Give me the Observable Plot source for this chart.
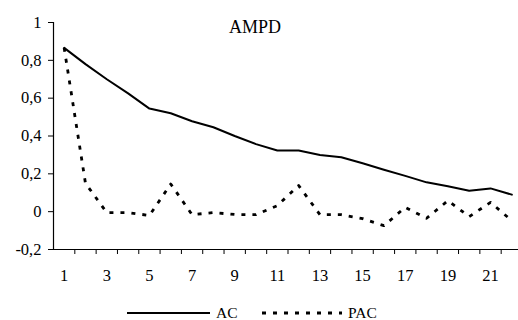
<!DOCTYPE html>
<html>
<head>
<meta charset="utf-8">
<script src="https://cdn.jsdelivr.net/npm/d3@7"></script>
<script src="https://cdn.jsdelivr.net/npm/@observablehq/plot@0.6"></script>
<style>
  html, body { margin: 0; padding: 0; background: #fff; }
  #chart { width: 518px; height: 320px; overflow: hidden; font-family: "Liberation Serif", "Times New Roman", serif; }
  .legend { position: relative; width: 518px; height: 28px; font-size: 15px; color: #000; }
  .legend svg { position: absolute; left: 0; top: 0; }
</style>
</head>
<body>
<div id="chart"></div>
<script>
const title = "AMPD";
const lags = [1,2,3,4,5,6,7,8,9,10,11,12,13,14,15,16,17,18,19,20,21,22];
const acValues = [0.866,0.78,0.70,0.625,0.545,0.52,0.478,0.446,0.40,0.357,0.323,0.323,0.30,0.288,0.256,0.222,0.189,0.155,0.134,0.111,0.123,0.09];
const pacValues = [0.866,0.15,-0.005,-0.005,-0.02,0.146,-0.016,-0.005,-0.015,-0.016,0.032,0.138,-0.016,-0.016,-0.037,-0.074,0.023,-0.035,0.058,-0.026,0.049,-0.048];
const yTicks = [-0.2,0,0.2,0.4,0.6,0.8,1];
const xLabelTicks = [1,3,5,7,9,11,13,15,17,19,21];
const seriesNames = ["AC","PAC"];

const acData = lags.map((l,i) => ({lag: l, v: acValues[i]}));
const pacData = lags.map((l,i) => ({lag: l, v: pacValues[i]}));
const boundaryTicks = lags.slice(0, -1).map(l => l + 0.5);
const fmt = d => String(d).replace(".", ",");
const serif = '"Liberation Serif", "Times New Roman", serif';

const plot = Plot.plot({
  width: 518,
  height: 292,
  marginLeft: 53,
  marginRight: 0,
  marginTop: 22,
  marginBottom: 43,
  style: {fontFamily: serif, fontSize: "16px", color: "#000", background: "#fff", overflow: "visible"},
  x: {type: "linear", domain: [0.5, 22.5], range: [53, 522]},
  y: {domain: [-0.2, 1]},
  marks: [
    Plot.axisY({ticks: yTicks, tickSize: 5, tickPadding: 7, tickFormat: fmt, label: null, fontSize: 16.5}),
    Plot.axisX({ticks: boundaryTicks, tickSize: 5, tickFormat: () => "", label: null}),
    Plot.axisX({ticks: xLabelTicks, tickSize: 0, tickPadding: 20, tickFormat: d => String(d), label: null, fontSize: 16.5}),
    Plot.ruleY([-0.2], {stroke: "#000", strokeWidth: 1.2}),
    Plot.ruleX([0.5], {stroke: "#000", strokeWidth: 1.2}),
    Plot.line(pacData, {x: "lag", y: "v", stroke: "#000", strokeWidth: 2.8, strokeDasharray: "4,7", strokeLinecap: "butt"}),
    Plot.line(acData, {x: "lag", y: "v", stroke: "#000", strokeWidth: 2}),
    Plot.text([title], {frameAnchor: "top", dx: -31, dy: -2, fontSize: 18, fill: "#000", text: d => d})
  ]
});

const chart = document.getElementById("chart");
chart.appendChild(plot);

const legend = document.createElement("div");
legend.className = "legend";
legend.innerHTML = `
<svg width="518" height="28" xmlns="http://www.w3.org/2000/svg" style="font-family:'Liberation Serif','Times New Roman',serif">
  <line x1="127" x2="210" y1="21" y2="21" stroke="#000" stroke-width="2"/>
  <text x="216" y="26" font-size="15.5" fill="#000">${seriesNames[0]}</text>
  <line x1="262" x2="342" y1="21" y2="21" stroke="#000" stroke-width="3" stroke-dasharray="4,7"/>
  <text x="348" y="26" font-size="15.5" fill="#000">${seriesNames[1]}</text>
</svg>`;
chart.appendChild(legend);
</script>
</body>
</html>
